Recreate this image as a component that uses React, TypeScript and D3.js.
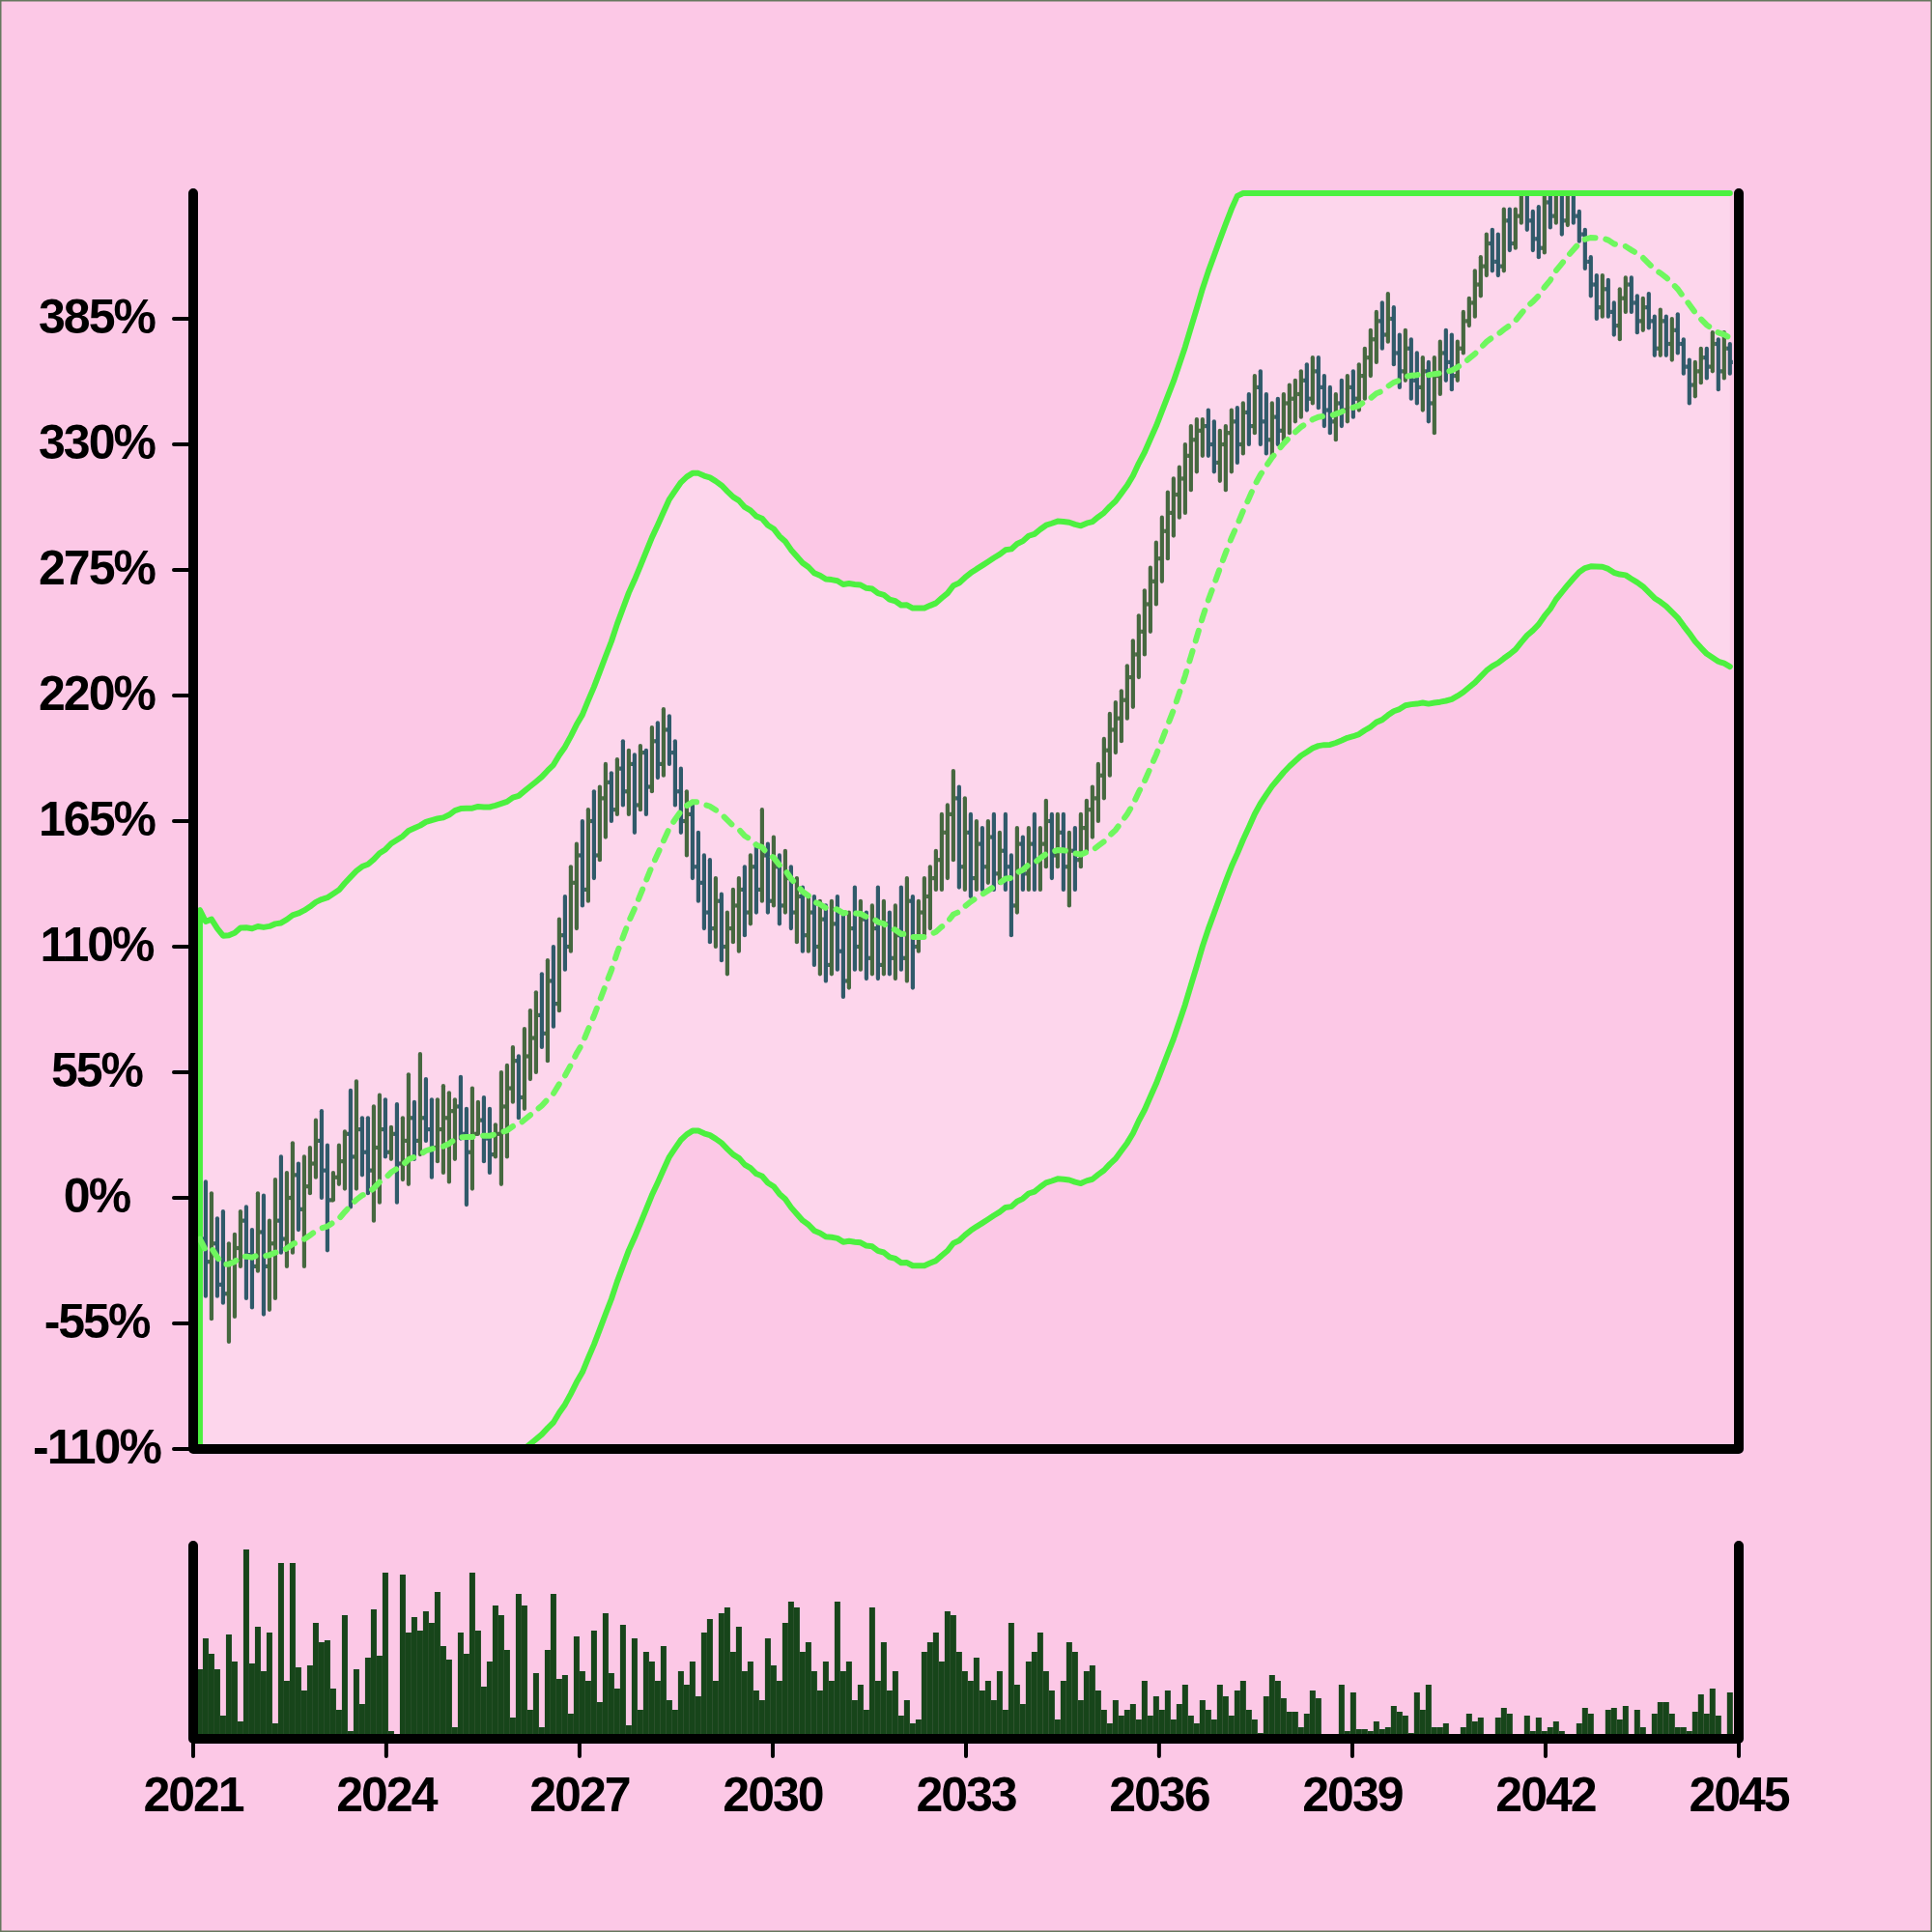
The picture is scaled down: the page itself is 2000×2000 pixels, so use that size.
import React, { useEffect, useRef } from 'react';
import * as d3 from 'd3';

// price bars: open of each bar is the previous close
const FIRST_OPEN = -10;

const CLOSE = [
  -18, -28, -20, -38, -42, -28, -22, -10, -25, -30,
  -15, -30, -20, -10, -18, 0, 10, -5, 5, 15,
  25, 12, -1, 9, 16, 28, 18, 30, 20, 12,
  22, 30, 20, 28, 15, 25, 35, 25, 35, 30,
  22, 30, 35, 38, 40, 28, 20, 28, 34, 26,
  19, 28, 40, 48, 60, 44, 62, 70, 80, 72,
  95, 85, 115, 110, 138, 150, 135, 165, 150, 175,
  182, 170, 188, 178, 190, 172, 195, 180, 200, 190,
  205, 195, 178, 165, 168, 145, 138, 125, 118, 130,
  110, 118, 128, 135, 125, 145, 135, 150, 130, 145,
  128, 140, 125, 132, 115, 125, 110, 122, 102, 120,
  108, 95, 118, 110, 122, 105, 118, 102, 120, 105,
  115, 105, 130, 110, 125, 132, 140, 148, 160, 168,
  175, 145, 160, 140, 155, 145, 158, 142, 152, 145,
  128, 155, 142, 155, 148, 155, 165, 150, 160, 145,
  152, 148, 162, 170, 175, 185, 196, 205, 210, 218,
  228, 238, 248, 260, 270, 280, 292, 300, 308, 315,
  325, 332, 336, 338, 330, 322, 330, 335, 340, 330,
  344, 338, 355, 340, 332, 342, 336, 348, 350, 352,
  358, 350, 362, 355, 345, 340, 348, 345, 355, 350,
  360, 368, 376, 384, 378, 385, 370, 362, 372, 358,
  355, 362, 348, 360, 370, 366, 360, 372, 384, 392,
  400, 408, 418, 410, 408, 428, 418, 430, 440, 428,
  420, 416, 436, 430, 440, 428, 440, 430, 422, 410,
  400, 390, 398, 388, 382, 394, 400, 392, 384, 390,
  384, 372, 384, 374, 380, 374, 364, 356, 362, 368,
  364, 374, 362, 372, 366,
];

const HIGH = [
  0, 7, 2, -9, -6, -20, -16, -6, -4, -14,
  2, 1, -10, 8, 18, 11, 24, 15, 18, 22,
  34, 38, 23, 11, 23, 29, 47, 51, 35, 35,
  40, 45, 43, 31, 41, 35, 54, 42, 63, 52,
  43, 43, 49, 46, 43, 53, 39, 48, 42, 44,
  39, 32, 55, 58, 66, 62, 74, 82, 90, 98,
  104, 110, 122, 132, 145, 155, 165, 170, 178, 180,
  190, 186, 192, 200, 196, 194, 198, 196, 206, 208,
  214, 211, 200, 188, 178, 172, 160, 150, 148, 140,
  133, 125, 135, 140, 145, 150, 155, 170, 155, 158,
  150, 152, 145, 140, 136, 132, 132, 130, 128, 130,
  132, 125, 125, 136, 130, 125, 128, 136, 130, 125,
  128, 136, 140, 132, 130, 140, 145, 152, 168, 172,
  187, 180, 175, 168, 165, 162, 165, 168, 160, 168,
  150, 162, 158, 162, 168, 162, 174, 168, 168, 168,
  160, 162, 168, 174, 180, 190, 201, 212, 217, 222,
  233, 244, 255, 266, 276, 287, 298, 309, 315, 320,
  330, 338, 341, 341, 345, 340, 336, 338, 345, 346,
  348, 352, 360, 362, 352, 348, 350, 352, 356, 358,
  362, 365, 368, 368, 360, 355, 352, 358, 360, 362,
  365, 372, 380, 388, 392, 396, 390, 378, 380, 376,
  370, 368, 366, 368, 375, 380, 378, 375, 388, 394,
  406, 412, 422, 424, 422, 433, 433, 433, 448, 446,
  432, 434, 446, 446, 448, 446, 448, 446, 432, 424,
  412, 404, 404, 402, 392, 398, 403, 403, 395, 394,
  396, 386, 389, 386, 385, 387, 376, 367, 366, 372,
  372, 379, 376, 379, 374,
];

const LOW = [
  -32, -43, -53, -43, -46, -63, -52, -30, -44, -48,
  -32, -51, -49, -44, -24, -30, -24, -14, -30, 2,
  9, 0, -23, -1, 6, 4, -4, 4, 10, 2,
  -10, -2, 18, 17, -2, 8, 6, 17, 19, 25,
  9, 16, 11, 7, 17, 26, -3, 4, 28, 16,
  11, 18, 6, 18, 42, 35, 39, 52, 55, 66,
  60, 75, 82, 100, 108, 118, 128, 130, 140, 148,
  158, 165, 168, 172, 168, 160, 170, 168, 178, 184,
  185, 190, 172, 160, 150, 140, 130, 118, 112, 110,
  104, 98, 112, 108, 115, 120, 125, 130, 125, 128,
  120, 125, 118, 112, 108, 108, 102, 98, 95, 98,
  100, 88, 92, 100, 100, 96, 98, 96, 98, 98,
  96, 100, 95, 92, 108, 115, 118, 135, 135, 140,
  148, 136, 135, 132, 135, 135, 138, 135, 138, 135,
  115, 125, 135, 135, 135, 135, 145, 140, 145, 135,
  128, 135, 145, 152, 158, 165, 175, 185, 195, 200,
  210, 215, 228, 238, 248, 260, 270, 280, 290, 298,
  300, 310, 318, 325, 325, 318, 314, 310, 318, 322,
  326, 330, 335, 330, 326, 325, 330, 332, 335, 340,
  342, 345, 348, 346, 338, 335, 332, 338, 340, 342,
  345, 350, 360, 366, 372, 375, 365, 355, 358, 350,
  348, 345, 340, 335, 352, 358, 354, 358, 370, 382,
  386, 395, 404, 406, 404, 406, 415, 416, 427, 424,
  415, 412, 414, 425, 427, 422, 426, 427, 419, 407,
  395, 385, 386, 386, 378, 376, 388, 388, 379, 380,
  381, 369, 369, 369, 367, 370, 361, 348, 351, 357,
  359, 362, 354, 359, 361,
];

const VOLUME = [
  36, 52, 44, 36, 12, 54, 40, 9, 98, 39,
  58, 35, 55, 8, 91, 30, 91, 37, 25, 38,
  60, 50, 51, 26, 15, 64, 4, 36, 18, 42,
  67, 43, 86, 4, 1, 85, 55, 63, 56, 66,
  60, 76, 48, 41, 6, 55, 44, 86, 56, 27,
  40, 69, 64, 46, 11, 75, 69, 15, 34, 6,
  46, 75, 31, 33, 13, 53, 35, 30, 56, 19,
  65, 34, 26, 59, 7, 52, 15, 45, 40, 30,
  48, 20, 15, 35, 28, 40, 22, 55, 62, 30,
  65, 68, 45, 58, 35, 40, 25, 20, 52, 38,
  30, 60, 71, 68, 45, 50, 35, 25, 40, 30,
  71, 35, 40, 20, 28, 15, 68, 30, 50, 25,
  35, 12, 20, 8, 10, 45, 50, 55, 40, 66,
  64, 45, 35, 30, 42, 25, 30, 20, 35, 15,
  60, 28, 18, 40, 45, 55, 35, 25, 10, 30,
  50, 45, 20, 35, 38, 25, 15, 8, 20, 12,
  15, 18, 10, 30, 12, 22, 15, 25, 10, 18,
  28, 12, 8, 20, 15, 10, 28, 22, 12, 25,
  30, 15, 10, 3, 22, 33, 30, 21, 14, 14,
  6, 13, 25, 21, 0, 2, 1, 28, 4, 24,
  5, 5, 4, 9, 5, 6, 17, 14, 12, 3,
  24, 15, 28, 6, 6, 8, 0, 0, 6, 13,
  9, 11, 0, 0, 11, 16, 13, 0, 2, 12,
  4, 11, 4, 6, 9, 4, 2, 0, 8, 16,
  13, 2, 0, 15, 16, 10, 17, 1, 15, 6,
  0, 13, 19, 19, 13, 6, 6, 4, 14, 23,
  13, 26, 12, 1, 24,
];

const Y_TICKS = [-110, -55, 0, 55, 110, 165, 220, 275, 330, 385];
const X_TICK_YEARS = [2021, 2024, 2027, 2030, 2033, 2036, 2039, 2042, 2045];

const FIRST_BAR_DATE = new Date(2021, 1, 8);
const STEP_DAYS = 32.87;
const MA_WINDOW = 22;
const BAND_OFFSET = 144;

const W = 2000;
const H = 2000;
const M = { left: 200, right: 1800, top: 200, bottom: 1500 };
const VOL = { top: 1600, bottom: 1800 };

const FONT = "'Liberation Sans', Arial, Helvetica, sans-serif";
const UP = '#466840';
const DOWN = '#305a6a';

const App: React.FC = () => {
  const ref = useRef<SVGSVGElement>(null);

  useEffect(() => {
    if (!ref.current) return;
    const svg = d3.select(ref.current);
    svg.selectAll('*').remove();

    const n = CLOSE.length;
    const dates = d3.range(n).map(i => new Date(FIRST_BAR_DATE.getTime() + i * STEP_DAYS * 86400000));
    const open = CLOSE.map((_, i) => (i === 0 ? FIRST_OPEN : CLOSE[i - 1]));
    const ma = CLOSE.map((_, i) => d3.mean(CLOSE.slice(Math.max(0, i - MA_WINDOW + 1), i + 1)) as number);

    const x = d3.scaleTime()
      .domain([new Date(2021, 0, 1), new Date(2045, 0, 1)])
      .range([M.left, M.right]);
    const y = d3.scaleLinear().domain([-110, 440]).range([M.bottom, M.top]);
    const yc = y.copy().clamp(true);
    const yv = d3.scaleLinear().domain([0, 100]).range([VOL.bottom, VOL.top]);

    // background
    svg.append('rect')
      .attr('x', 0.75).attr('y', 0.75)
      .attr('width', W - 1.5).attr('height', H - 1.5)
      .attr('fill', '#fcc8e6')
      .attr('stroke', '#66785e')
      .attr('stroke-width', 1.5);

    const defs = svg.append('defs');
    defs.append('clipPath').attr('id', 'plot-clip')
      .append('rect')
      .attr('x', M.left).attr('y', M.top)
      .attr('width', M.right - M.left).attr('height', M.bottom - M.top);
    defs.append('clipPath').attr('id', 'vol-clip')
      .append('rect')
      .attr('x', M.left).attr('y', VOL.top)
      .attr('width', M.right - M.left).attr('height', VOL.bottom - VOL.top);

    // envelope band
    const upperPts: [number, number][] = ma.map((m, i) => [x(dates[i]), yc(m + BAND_OFFSET)]);
    const lowerPts: [number, number][] = ma.map((m, i) => [x(dates[i]), yc(m - BAND_OFFSET)]);
    const line = d3.line();

    svg.append('path')
      .attr('d', line([...upperPts, ...lowerPts.slice().reverse()]) + 'Z')
      .attr('fill', '#ffffff')
      .attr('fill-opacity', 0.25);

    // OHLC bars
    const bars = svg.append('g').attr('clip-path', 'url(#plot-clip)');
    CLOSE.forEach((c, i) => {
      const o = open[i];
      const cx = x(dates[i]);
      const color = c >= o ? UP : DOWN;
      const g = bars.append('g').attr('stroke', color).attr('stroke-width', 4.2);
      g.append('line')
        .attr('x1', cx).attr('x2', cx)
        .attr('y1', y(Math.max(HIGH[i], o, c)))
        .attr('y2', y(Math.min(LOW[i], o, c)))
        .attr('stroke-linecap', 'round');
      g.append('line')
        .attr('x1', cx - 3).attr('x2', cx)
        .attr('y1', y(o)).attr('y2', y(o));
      g.append('line')
        .attr('x1', cx).attr('x2', cx + 3)
        .attr('y1', y(c)).attr('y2', y(c));
    });

    // band outline: upper (right to left), down the left edge, lower (left to right)
    svg.append('path')
      .attr('d', line([...upperPts.slice().reverse(), ...lowerPts]))
      .attr('fill', 'none')
      .attr('stroke', '#4cf03f')
      .attr('stroke-width', 6)
      .attr('stroke-linejoin', 'round')
      .attr('stroke-linecap', 'round');

    // moving average
    svg.append('path')
      .datum(ma)
      .attr('d', d3.line<number>().x((_, i) => x(dates[i])).y(d => y(d)))
      .attr('fill', 'none')
      .attr('stroke', '#6ff75e')
      .attr('stroke-width', 6)
      .attr('stroke-dasharray', '11 11')
      .attr('stroke-linecap', 'round');

    // volume
    svg.append('g')
      .attr('clip-path', 'url(#vol-clip)')
      .selectAll('rect')
      .data(VOLUME)
      .enter()
      .append('rect')
      .attr('x', (_, i) => x(dates[i]) - 3)
      .attr('width', 6)
      .attr('y', d => yv(d))
      .attr('height', d => VOL.bottom - yv(d))
      .attr('fill', '#17451a');

    // y axis ticks + labels
    const yAxis = svg.append('g');
    Y_TICKS.forEach(t => {
      yAxis.append('line')
        .attr('x1', 180).attr('x2', M.left)
        .attr('y1', y(t)).attr('y2', y(t))
        .attr('stroke', '#000').attr('stroke-width', 4)
        .attr('stroke-linecap', 'round');
      yAxis.append('text')
        .attr('x', 100).attr('y', y(t)).attr('dy', '0.3em')
        .attr('text-anchor', 'middle')
        .attr('font-family', FONT).attr('font-weight', 700)
        .attr('font-size', 50).attr('letter-spacing', -2)
        .attr('fill', '#000')
        .text(`${t}%`);
    });

    // x axis ticks + labels
    const xAxis = svg.append('g');
    X_TICK_YEARS.forEach(yr => {
      const tx = x(new Date(yr, 0, 1));
      xAxis.append('line')
        .attr('x1', tx).attr('x2', tx)
        .attr('y1', VOL.bottom).attr('y2', VOL.bottom + 18)
        .attr('stroke', '#000').attr('stroke-width', 4)
        .attr('stroke-linecap', 'round');
      xAxis.append('text')
        .attr('x', tx).attr('y', 1875)
        .attr('text-anchor', 'middle')
        .attr('font-family', FONT).attr('font-weight', 700)
        .attr('font-size', 50).attr('letter-spacing', -2)
        .attr('fill', '#000')
        .text(String(yr));
    });

    // frames
    svg.append('path')
      .attr('d', `M${M.left},${M.top}V${M.bottom}H${M.right}V${M.top}`)
      .attr('fill', 'none').attr('stroke', '#000').attr('stroke-width', 10)
      .attr('stroke-linecap', 'round').attr('stroke-linejoin', 'round');
    svg.append('path')
      .attr('d', `M${M.left},${VOL.top}V${VOL.bottom}H${M.right}V${VOL.top}`)
      .attr('fill', 'none').attr('stroke', '#000').attr('stroke-width', 10)
      .attr('stroke-linecap', 'round').attr('stroke-linejoin', 'round');
  }, []);

  return (
    <div style={{ position: 'absolute', left: 0, top: 0 }}>
      <svg ref={ref} width={W} height={H} style={{ display: 'block' }} />
    </div>
  );
};

export default App;
